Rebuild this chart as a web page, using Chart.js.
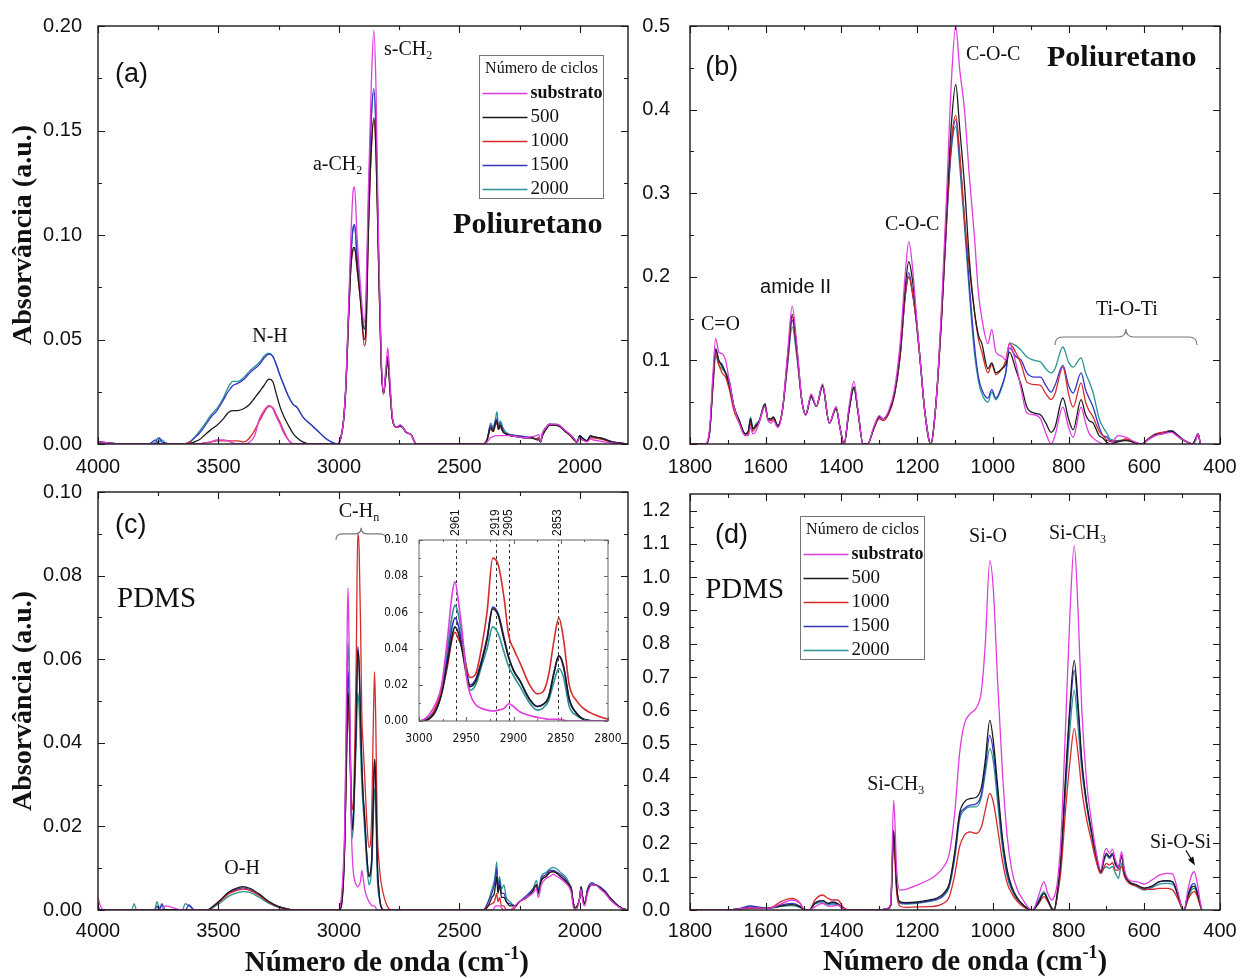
<!DOCTYPE html>
<html>
<head>
<meta charset="utf-8">
<script src="https://cdn.jsdelivr.net/npm/chart.js@4.4.1/dist/chart.umd.min.js"></script>
<style>
  body { margin: 0; background: #fff; width: 1240px; height: 979px; position: relative; overflow: hidden; }
  canvas { position: absolute; }
</style>
</head>
<body>
<canvas id="chartA" width="640" height="480" style="left:0;top:0"></canvas>
<canvas id="chartB" width="610" height="480" style="left:630px;top:0"></canvas>
<canvas id="chartC" width="640" height="509" style="left:0;top:470px"></canvas>
<canvas id="chartD" width="610" height="509" style="left:630px;top:470px"></canvas>
<canvas id="chartInset" width="240" height="262" style="left:385px;top:488px"></canvas>
<script>
// series (número de ciclos)
const seriesNames = ['substrato', '500', '1000', '1500', '2000'];
const seriesColors = ['#e03ce0', '#1b1b1b', '#d62b2b', '#3535c4', '#2b9393'];

// tick labels
const hiXTicks = [4000, 3500, 3000, 2500, 2000];
const loXTicks = [1800, 1600, 1400, 1200, 1000, 800, 600, 400];
const aYTicks = [0, 0.05, 0.10, 0.15, 0.20];
const bYTicks = [0, 0.1, 0.2, 0.3, 0.4, 0.5];
const cYTicks = [0, 0.02, 0.04, 0.06, 0.08, 0.10];
const dYTicks = [0, 0.1, 0.2, 0.3, 0.4, 0.5, 0.6, 0.7, 0.8, 0.9, 1.0, 1.1, 1.2];
const insetXTicks = [3000, 2950, 2900, 2850, 2800];
const insetYTicks = [0, 0.02, 0.04, 0.06, 0.08, 0.10];
const insetMarks = [2961, 2919, 2905, 2853];

// (a) Poliuretano, 4000-1800 cm-1
const aWave = [4000,3900,3790,3760,3752,3745,3735,3720,3700,3640,
  3618,3600,3580,3560,3530,3506,3480,3460,3440,3420,
  3394,3370,3350,3330,3311,3290,3275,3260,3245,3228,
  3210,3190,3174,3150,3120,3090,3062,3035,3005,2990,
  2980,2970,2960,2950,2940,2935,2925,2910,2895,2888,
  2878,2866,2855,2846,2836,2825,2815,2806,2797,2788,
  2778,2760,2745,2735,2720,2700,2690,2680,2400,2385,
  2370,2360,2350,2344,2338,2330,2320,2310,2290,2260,
  2230,2200,2180,2170,2163,2155,2140,2125,2105,2085,
  2060,2040,2020,2012,2000,1990,1970,1955,1945,1920,
  1900,1870,1840,1800];
const aSub = [.001,0,0,0,0,0,0,0,0,0,
  0,0,0,.0005,.001,.002,.002,.0015,.0005,0,
  0,.001,.004,.012,.016,.0185,.017,.013,.0096,.005,
  .002,0,0,0,0,0,0,0,0,.004,
  .012,.032,.065,.10,.122,.123,.10,.075,.058,.07,
  .12,.17,.198,.17,.10,.045,.024,.035,.046,.03,
  .013,.008,.009,.008,.0055,.0045,.002,0,0,.001,
  .003,.0035,.004,.004,.004,.004,.004,.004,.004,.0035,
  .003,.0035,.004,.0045,.001,.005,.008,.0095,.0095,.009,
  .0065,.0045,.002,.0008,.003,.002,.001,.0025,.002,.0015,
  .001,.0005,.0002,0];
const a500 = [.001,0,0,0,0,0,0,0,0,0,
  0,.001,.002,.004,.007,.009,.012,.015,.016,.016,
  .017,.019,.022,.025,.028,.031,.030,.024,.018,.013,
  .009,.005,.003,.001,0,0,0,0,0,.004,
  .012,.03,.06,.085,.094,.094,.085,.068,.05,.055,
  .10,.14,.156,.14,.09,.04,.024,.032,.040,.026,
  .012,.008,.0085,.008,.0055,.0045,.002,0,0,.002,
  .008,.006,.010,.011,.007,.009,.006,.005,.004,.0035,
  .003,.003,.002,.002,.001,.004,.007,.009,.009,.0085,
  .006,.004,.0015,.0008,.004,.003,.0016,.004,.0035,.003,
  .0024,.001,.0005,0];
const a1000 = [0,0,0,0,0,0,0,0,0,0,
  .001,0,0,.0005,.001,.0015,.0015,.0015,.0015,.0015,
  .001,.003,.0065,.011,.015,.018,.0175,.014,.0105,.006,
  .002,0,0,0,0,0,0,0,0,.004,
  .012,.03,.06,.085,.093,.094,.084,.068,.047,.05,
  .10,.14,.155,.14,.09,.04,.024,.032,.040,.026,
  .012,.008,.0085,.008,.0055,.0045,.002,0,0,.002,
  .007,.006,.009,.010,.007,.008,.006,.005,.004,.0035,
  .003,.003,.0025,.003,.001,.004,.0075,.009,.009,.0085,
  .006,.004,.0015,.0008,.003,.002,.0015,.003,.003,.0025,
  .002,.001,.0004,0];
const a1500 = [.001,0,0,.002,.0005,.003,.001,.0005,0,0,
  .001,.003,.005,.008,.013,.016,.021,.025,.028,.029,
  .031,.034,.036,.038,.041,.043,.042,.038,.033,.028,
  .023,.019,.0175,.013,.0097,.0065,.0034,.0012,0,.004,
  .012,.03,.062,.09,.104,.105,.09,.07,.055,.06,
  .11,.155,.170,.15,.095,.042,.024,.033,.042,.027,
  .012,.008,.009,.008,.0055,.0045,.002,0,0,.002,
  .009,.007,.011,.012,.008,.010,.007,.005,.0045,.004,
  .0035,.003,.0025,.003,.001,.005,.008,.0095,.009,.0085,
  .006,.0045,.002,.0008,.004,.003,.0016,.004,.0035,.003,
  .0024,.0012,.0005,0];
const a2000 = [.001,0,0,.001,.003,.001,.002,.0005,0,0,
  .001,.003,.006,.009,.014,.017,.022,.027,.030,.030,
  .032,.035,.037,.039,.042,.0435,.042,.038,.033,.028,
  .023,.019,.0176,.013,.0097,.0065,.0034,.0012,0,.004,
  .012,.03,.062,.09,.104,.105,.09,.07,.055,.062,
  .11,.155,.168,.15,.095,.042,.024,.033,.042,.027,
  .012,.008,.009,.008,.0055,.0045,.002,0,0,.002,
  .010,.008,.012,.0155,.009,.011,.008,.006,.0045,.004,
  .0035,.003,.0025,.003,.001,.005,.008,.0095,.0095,.009,
  .006,.0045,.002,.0008,.004,.003,.0016,.004,.0035,.003,
  .0024,.0012,.0005,0];

// (b) Poliuretano, 1800-400 cm-1
const bWave = [1800,1760,1748,1740,1732,1724,1715,1706,1696,1684,
  1670,1654,1646,1640,1634,1626,1618,1602,1594,1586,
  1580,1568,1556,1542,1530,1518,1504,1494,1480,1466,
  1450,1432,1414,1404,1393,1380,1367,1356,1343,1331,
  1315,1300,1290,1275,1260,1245,1232,1222,1212,1203,
  1192,1180,1164,1150,1135,1122,1110,1098,1088,1075,
  1062,1049,1038,1029,1013,1003,992,976,966,956,
  940,925,910,890,874,860,846,836,815,800,
  788,767,755,746,735,719,709,699,690,669,
  648,627,606,590,570,554,528,515,502,485,
  473,465,458,452];
const bSub = [0,0,.02,.08,.126,.11,.108,.10,.075,.045,
  .025,.01,.01,.02,.012,.015,.025,.045,.028,.025,
  .028,.02,.04,.11,.165,.12,.05,.035,.06,.045,
  .072,.025,.045,.02,0,.045,.075,.04,0,0,
  .02,.034,.03,.04,.065,.12,.20,.242,.21,.16,
  .10,.04,0,.05,.17,.30,.43,.50,.45,.40,
  .32,.25,.18,.15,.12,.137,.11,.105,.10,.12,
  .098,.065,.037,.035,.03,.013,0,.01,.044,.02,
  .008,.044,.025,.013,.007,.002,0,0,0,.01,
  .008,.003,0,.005,.01,.012,.014,.01,.006,.002,
  0,.003,.012,0];
const b500 = [0,0,.015,.07,.114,.10,.093,.085,.07,.045,
  .028,.012,.015,.03,.018,.022,.026,.048,.03,.03,
  .032,.022,.04,.105,.155,.115,.05,.035,.058,.045,
  .07,.025,.043,.02,0,.04,.068,.038,0,0,
  .018,.033,.03,.038,.06,.11,.185,.218,.195,.155,
  .10,.04,0,.05,.16,.28,.38,.43,.38,.31,
  .22,.16,.13,.12,.09,.097,.085,.09,.095,.11,
  .09,.07,.044,.037,.035,.025,.014,.02,.055,.03,
  .017,.053,.035,.028,.025,.01,.007,.002,0,.003,
  .004,.002,0,.005,.011,.012,.015,.011,.006,.002,
  0,.005,.012,0];
const b1000 = [0,0,.015,.065,.108,.095,.085,.08,.065,.04,
  .025,.01,.012,.025,.015,.02,.025,.045,.028,.028,
  .03,.02,.04,.10,.152,.11,.05,.035,.058,.045,
  .07,.025,.043,.02,0,.04,.068,.038,0,0,
  .018,.03,.028,.036,.058,.105,.175,.20,.18,.15,
  .10,.04,0,.05,.155,.27,.36,.393,.35,.27,
  .21,.16,.125,.11,.085,.095,.083,.09,.10,.12,
  .11,.095,.074,.071,.07,.06,.053,.06,.092,.06,
  .044,.073,.05,.04,.032,.015,.01,.005,.003,.003,
  .006,.002,0,.006,.012,.014,.015,.011,.006,.002,
  0,.005,.012,0];
const b1500 = [0,0,.015,.07,.112,.10,.095,.085,.075,.045,
  .028,.012,.015,.03,.018,.022,.026,.048,.03,.03,
  .032,.022,.04,.10,.148,.11,.05,.035,.056,.045,
  .07,.025,.043,.02,0,.04,.068,.038,0,0,
  .018,.032,.03,.038,.06,.105,.175,.205,.18,.15,
  .10,.04,0,.05,.155,.27,.355,.388,.345,.27,
  .19,.12,.08,.065,.055,.065,.055,.07,.085,.115,
  .105,.10,.085,.08,.08,.07,.062,.07,.094,.07,
  .061,.085,.065,.055,.044,.02,.01,.0085,.004,.003,
  .005,.002,0,.006,.012,.013,.016,.012,.007,.002,
  0,.006,.012,0];
const b2000 = [0,0,.015,.065,.105,.095,.09,.085,.075,.045,
  .028,.012,.015,.032,.018,.024,.028,.046,.03,.03,
  .032,.022,.04,.095,.14,.105,.05,.035,.056,.045,
  .068,.025,.042,.02,0,.04,.066,.038,0,0,
  .018,.032,.03,.038,.06,.105,.175,.20,.18,.15,
  .10,.04,0,.05,.155,.265,.35,.38,.335,.26,
  .18,.11,.075,.06,.05,.062,.053,.068,.085,.121,
  .118,.112,.104,.10,.098,.09,.085,.09,.116,.098,
  .092,.103,.085,.075,.061,.03,.02,.013,.006,.004,
  .005,.002,0,.006,.012,.013,.016,.012,.007,.002,
  0,.006,.012,0];

// (c) PDMS, 4000-1800 cm-1 (the inset uses the same spectra)
const cWave = [4000,3990,3975,3860,3850,3840,3765,3755,3745,3735,
  3722,3650,3638,3622,3600,3545,3520,3490,3460,3430,
  3400,3370,3330,3290,3250,3210,3190,3000,2990,2982,
  2976,2970,2965,2962,2958,2954,2950,2946,2940,2934,
  2928,2922,2916,2910,2905,2900,2893,2883,2875,2869,
  2863,2857,2852,2847,2841,2833,2826,2812,2800,2780,
  2400,2380,2365,2355,2350,2345,2340,2333,2325,2315,
  2305,2290,2270,2250,2220,2195,2180,2172,2160,2140,
  2125,2110,2095,2080,2060,2045,2035,2028,2020,2010,
  2000,1995,1988,1980,1968,1950,1935,1915,1895,1875,
  1850,1825,1800];
const cSub = [.003,.001,0,0,0,0,0,0,0,0,
  .001,0,0,0,0,0,0,0,0,0,
  0,0,0,0,0,0,0,0,.003,.01,
  .02,.045,.07,.077,.065,.048,.025,.015,.009,.007,
  .006,.0055,.006,.007,.0095,.008,.005,.003,.002,.0015,
  .001,.001,.001,.0005,0,0,0,0,0,0,
  0,0,0,.0005,.001,.001,.001,.001,.0005,0,
  0,0,.001,.002,.003,.004,.005,.003,.006,.0075,
  .008,.0085,.008,.0075,.0065,.0055,.004,.001,0,.0005,
  .003,.005,.002,.001,.004,.006,.006,.005,.004,.0025,
  .0012,.0003,0];
const c500 = [0,0,0,0,0,0,0,0,0,0,
  0,0,0,0,0,0,.001,.0025,.0042,.0051,
  .0056,.0052,.0038,.002,.0008,.0002,0,0,.001,.006,
  .015,.032,.047,.052,.048,.038,.026,.019,.022,.032,
  .045,.062,.058,.045,.035,.028,.022,.012,.008,.009,
  .013,.027,.036,.03,.012,.004,.001,0,0,0,
  0,.001,.003,.004,.006,.008,.004,.006,.003,.003,
  .002,.001,.001,.002,.003,.0045,.006,.004,.007,.008,
  .009,.0092,.0088,.008,.007,.006,.005,.002,.0005,.001,
  .003,.0055,.003,.0015,.0045,.006,.006,.0052,.0042,.0028,
  .0014,.0004,0];
const c1000 = [0,0,0,0,0,0,0,0,0,0,
  0,0,0,0,0,0,.0009,.0022,.0038,.0046,
  .005,.0047,.0034,.0018,.0007,.0002,0,0,.001,.008,
  .016,.03,.045,.049,.045,.04,.03,.024,.026,.04,
  .06,.09,.086,.068,.047,.04,.032,.02,.015,.016,
  .025,.045,.057,.045,.02,.011,.007,.003,.001,0,
  0,.001,.0015,.002,.003,.004,.002,.003,.001,.001,
  0,0,.0005,.002,.003,.0045,.006,.004,.007,.008,
  .009,.0092,.0088,.008,.007,.006,.005,.002,.0005,.001,
  .003,.0055,.003,.0015,.0045,.006,.006,.0052,.0042,.0028,
  .0014,.0004,0];
const c1500 = [0,0,0,0,0,0,0,.001,0,.0015,
  0,0,0,.0012,0,0,.0009,.0023,.004,.0048,
  .0053,.0049,.0036,.0019,.0008,.0002,0,0,.001,.006,
  .016,.035,.052,.057,.052,.04,.028,.02,.023,.033,
  .046,.063,.059,.046,.035,.028,.022,.012,.008,.009,
  .013,.027,.036,.03,.012,.004,.001,0,0,0,
  0,.002,.004,.006,.008,.01,.005,.007,.004,.004,
  .002,.0015,.001,.002,.0035,.005,.006,.0045,.0075,.0085,
  .0095,.0095,.009,.0085,.0075,.006,.005,.002,.0005,.001,
  .003,.0055,.003,.0015,.005,.0065,.006,.0055,.0045,.003,
  .0015,.0004,0];
const c2000 = [.001,0,0,0,.0015,0,0,.002,.0005,.001,
  0,0,.0015,.001,0,0,.0007,.0018,.0032,.004,
  .0044,.0042,.003,.0016,.0006,.0001,0,0,.002,.007,
  .018,.04,.058,.064,.058,.045,.03,.017,.02,.03,
  .04,.052,.048,.038,.03,.025,.019,.01,.006,.007,
  .011,.022,.029,.024,.008,.003,.001,0,0,0,
  0,.002,.005,.007,.009,.0115,.006,.008,.005,.006,
  .003,.002,.001,.002,.0035,.005,.007,.005,.008,.009,
  .0098,.0102,.0098,.009,.008,.0065,.005,.002,.0005,.001,
  .003,.0055,.003,.0015,.005,.0065,.006,.0055,.0045,.003,
  .0015,.0004,0];

// (d) PDMS, 1800-400 cm-1
const dWave = [1800,1700,1670,1640,1620,1600,1580,1560,1530,1510,
  1500,1485,1470,1450,1435,1425,1410,1395,1380,1300,
  1280,1270,1262,1254,1246,1230,1200,1170,1150,1130,
  1115,1100,1088,1075,1060,1045,1030,1020,1008,998,
  988,975,962,950,935,920,905,895,880,865,
  855,845,838,830,820,808,796,785,775,765,
  752,740,728,715,706,700,692,684,676,668,
  660,652,640,620,600,580,560,540,525,510,
  500,495,485,475,468,460,453,448];
const dSub = [0,0,.003,.007,.006,.005,.008,.018,.03,.02,
  .003,0,.01,.02,.012,.012,.015,.004,0,0,
  .004,.02,.33,.12,.06,.062,.075,.09,.105,.13,
  .17,.30,.47,.56,.59,.605,.66,.80,1.05,.95,
  .70,.42,.22,.12,.06,.03,.005,0,.04,.085,
  .05,.03,.04,.08,.22,.55,.90,1.095,.90,.60,
  .38,.27,.18,.12,.17,.185,.17,.182,.15,.13,
  .175,.12,.09,.085,.078,.09,.105,.11,.108,.05,
  .005,0,.06,.105,.115,.08,.03,0];
const d500 = [0,0,.003,.008,.007,.005,.007,.012,.016,.01,
  .002,0,.02,.028,.02,.022,.018,.005,0,0,
  .003,.015,.24,.07,.025,.022,.024,.03,.035,.05,
  .08,.18,.29,.325,.335,.338,.37,.45,.57,.50,
  .38,.22,.12,.07,.035,.015,.002,0,.02,.05,
  .03,.005,0,.05,.16,.40,.62,.75,.62,.45,
  .32,.24,.17,.115,.155,.17,.16,.17,.14,.13,
  .16,.11,.085,.075,.066,.072,.085,.088,.085,.04,
  .005,0,.04,.068,.072,.05,.02,0];
const d1000 = [0,0,.002,.005,.005,.005,.01,.025,.035,.022,
  .004,0,.03,.045,.035,.03,.03,.008,0,0,
  .003,.012,.20,.05,.012,.008,.0095,.01,.012,.02,
  .04,.11,.19,.225,.235,.23,.25,.30,.35,.32,
  .25,.15,.08,.05,.025,.01,.002,0,.018,.04,
  .025,.005,0,.04,.12,.30,.45,.545,.47,.36,
  .27,.21,.15,.11,.13,.14,.135,.142,.12,.12,
  .13,.10,.08,.072,.062,.062,.065,.065,.06,.03,
  .003,0,.03,.05,.055,.04,.015,0];
const d1500 = [0,0,.004,.012,.009,.006,.008,.015,.02,.012,
  .002,0,.022,.028,.02,.024,.02,.005,0,0,
  .003,.015,.235,.07,.022,.02,.022,.027,.032,.045,
  .075,.17,.28,.305,.315,.318,.35,.43,.525,.47,
  .36,.21,.11,.065,.035,.015,.002,0,.025,.05,
  .03,.005,0,.045,.15,.38,.60,.72,.60,.44,
  .32,.24,.16,.11,.15,.165,.155,.165,.135,.125,
  .165,.105,.085,.075,.065,.07,.085,.087,.084,.04,
  .005,0,.045,.075,.08,.055,.02,0];
const d2000 = [0,0,.003,.009,.007,.005,.007,.011,.013,.008,
  .002,0,.018,.022,.016,.018,.016,.004,0,0,
  .003,.015,.23,.065,.02,.018,.02,.025,.03,.043,
  .07,.16,.27,.30,.31,.31,.34,.41,.485,.44,
  .33,.19,.10,.06,.03,.015,.002,0,.028,.055,
  .033,.008,0,.045,.14,.36,.55,.66,.55,.42,
  .31,.23,.16,.11,.125,.13,.125,.13,.11,.095,
  .14,.10,.082,.07,.06,.067,.078,.08,.078,.038,
  .005,0,.035,.06,.065,.045,.018,0];

const SERIF = '"Liberation Serif", "Times New Roman", serif';
const SANS = '"Liberation Sans", Arial, sans-serif';
const NARROW = '"Liberation Sans Narrow", "DejaVu Sans Condensed", "Liberation Sans", sans-serif';

function makeSets(xs, ys, width) {
  return ys.map((arr, k) => ({
    label: seriesNames[k],
    data: xs.map((x, i) => ({ x: x, y: arr[i] })),
    borderColor: seriesColors[k],
    borderWidth: width,
    pointRadius: 0,
    pointHoverRadius: 0,
    cubicInterpolationMode: 'monotone',
    fill: false
  }));
}

// text with _{sub} and ^{sup} parts
function drawRich(ctx, str, x, y, size, family, weight, align) {
  const parts = [];
  const re = /([_^])\{([^}]*)\}|([^_^]+)/g;
  let m;
  while ((m = re.exec(str))) {
    if (m[3]) parts.push({ s: m[3], k: '' });
    else parts.push({ s: m[2], k: m[1] });
  }
  const fontOf = k => weight + ' ' + (k ? Math.round(size * 0.62) : size) + 'px ' + family;
  let w = 0;
  parts.forEach(p => { ctx.font = fontOf(p.k); p.w = ctx.measureText(p.s).width; w += p.w; });
  let cx = align === 'center' ? x - w / 2 : (align === 'right' ? x - w : x);
  ctx.textAlign = 'left';
  ctx.textBaseline = 'middle';
  parts.forEach(p => {
    ctx.font = fontOf(p.k);
    const dy = p.k === '_' ? size * 0.3 : (p.k === '^' ? -size * 0.3 : 0);
    ctx.fillText(p.s, cx, y + dy);
    cx += p.w;
  });
}

const framePlugin = {
  id: 'frame',
  beforeDatasetsDraw(chart, args, o) {
    if (!o.fill) return;
    const a = chart.chartArea;
    chart.ctx.save();
    chart.ctx.fillStyle = '#fff';
    chart.ctx.fillRect(a.left, a.top, a.right - a.left, a.bottom - a.top);
    chart.ctx.restore();
  },
  afterDatasetsDraw(chart, args, o) {
    const { ctx, chartArea: a } = chart;
    const xs = chart.scales.x, ys = chart.scales.y;
    const big = o.major || 7, small = o.minor || 4;
    const marks = scale => {
      const v = scale.ticks.map(t => t.value);
      const out = v.map(q => [q, big]);
      for (let i = 0; i < v.length - 1; i++) out.push([(v[i] + v[i + 1]) / 2, small]);
      return out;
    };
    ctx.save();
    ctx.strokeStyle = o.color || '#1a1a1a';
    ctx.lineWidth = o.width || 1.4;
    ctx.strokeRect(a.left, a.top, a.right - a.left, a.bottom - a.top);
    ctx.lineWidth = 1.1;
    ctx.beginPath();
    marks(xs).forEach(([v, len]) => {
      const p = Math.round(xs.getPixelForValue(v)) + 0.5;
      ctx.moveTo(p, a.bottom); ctx.lineTo(p, a.bottom - len);
      ctx.moveTo(p, a.top); ctx.lineTo(p, a.top + len);
    });
    marks(ys).forEach(([v, len]) => {
      const p = Math.round(ys.getPixelForValue(v)) + 0.5;
      ctx.moveTo(a.left, p); ctx.lineTo(a.left + len, p);
      ctx.moveTo(a.right, p); ctx.lineTo(a.right - len, p);
    });
    ctx.stroke();
    ctx.restore();
  }
};

const notesPlugin = {
  id: 'notes',
  afterDatasetsDraw(chart, args, o) {
    const { ctx, chartArea: a } = chart;
    const xs = chart.scales.x, ys = chart.scales.y;
    const px = it => it.fx !== undefined ? a.left + it.fx * (a.right - a.left) : xs.getPixelForValue(it.x);
    const py = it => it.fy !== undefined ? a.top + it.fy * (a.bottom - a.top) : ys.getPixelForValue(it.y);
    ctx.save();
    ctx.fillStyle = '#111';
    (o.texts || []).forEach(it => drawRich(ctx, it.t, px(it), py(it), it.size || 20,
      it.family || SERIF, it.weight || 'normal', it.align || 'left'));
    (o.braces || []).forEach(b => {
      const x1 = xs.getPixelForValue(b.x1), x2 = xs.getPixelForValue(b.x2);
      const y = ys.getPixelForValue(b.y), h = b.h, xc = (x1 + x2) / 2;
      ctx.strokeStyle = '#777'; ctx.lineWidth = 1.2;
      ctx.beginPath();
      ctx.moveTo(x1, y + h);
      ctx.quadraticCurveTo(x1, y, x1 + h, y);
      ctx.lineTo(xc - h, y);
      ctx.quadraticCurveTo(xc, y, xc, y - h);
      ctx.quadraticCurveTo(xc, y, xc + h, y);
      ctx.lineTo(x2 - h, y);
      ctx.quadraticCurveTo(x2, y, x2, y + h);
      ctx.stroke();
    });
    (o.arrows || []).forEach(r => {
      const x1 = xs.getPixelForValue(r.x1), y1 = ys.getPixelForValue(r.y1);
      const x2 = xs.getPixelForValue(r.x2), y2 = ys.getPixelForValue(r.y2);
      const ang = Math.atan2(y2 - y1, x2 - x1);
      ctx.strokeStyle = '#111'; ctx.lineWidth = 1.2;
      ctx.beginPath(); ctx.moveTo(x1, y1); ctx.lineTo(x2 - 6 * Math.cos(ang), y2 - 6 * Math.sin(ang)); ctx.stroke();
      ctx.beginPath();
      ctx.moveTo(x2, y2);
      ctx.lineTo(x2 - 9 * Math.cos(ang - 0.35), y2 - 9 * Math.sin(ang - 0.35));
      ctx.lineTo(x2 - 9 * Math.cos(ang + 0.35), y2 - 9 * Math.sin(ang + 0.35));
      ctx.closePath(); ctx.fill();
    });
    if (o.legend) {
      const L = o.legend;
      const left = Math.round(xs.getPixelForValue(L.x)) + 0.5, top = Math.round(ys.getPixelForValue(L.y)) + 0.5;
      ctx.fillStyle = '#fff';
      ctx.fillRect(left, top, 124, 143);
      ctx.strokeStyle = '#777'; ctx.lineWidth = 1;
      ctx.strokeRect(left, top, 124, 143);
      ctx.fillStyle = '#111';
      drawRich(ctx, L.title, left + 62, top + 13, 16, SERIF, 'normal', 'center');
      chart.data.datasets.forEach((ds, i) => {
        const yy = Math.round(top + 37 + i * 24) + 0.5;
        ctx.strokeStyle = ds.borderColor; ctx.lineWidth = 1.3;
        ctx.beginPath(); ctx.moveTo(left + 3, yy); ctx.lineTo(left + 48, yy); ctx.stroke();
        ctx.fillStyle = '#111';
        drawRich(ctx, ds.label, left + 51, yy, i === 0 ? 18 : 19, SERIF, i === 0 ? 'bold' : 'normal', 'left');
      });
    }
    ctx.restore();
  }
};

const marksPlugin = {
  id: 'marks',
  beforeDatasetsDraw(chart, args, o) {
    if (!o.values) return;
    const { ctx, chartArea: a } = chart;
    const xs = chart.scales.x;
    ctx.save();
    ctx.strokeStyle = '#333'; ctx.lineWidth = 1; ctx.setLineDash([3, 3]);
    o.values.forEach(v => {
      const p = Math.round(xs.getPixelForValue(v)) + 0.5;
      ctx.beginPath(); ctx.moveTo(p, a.bottom); ctx.lineTo(p, a.top); ctx.stroke();
    });
    ctx.setLineDash([]);
    ctx.fillStyle = '#111';
    ctx.font = '12px ' + SANS;
    ctx.textAlign = 'left'; ctx.textBaseline = 'middle';
    o.values.forEach(v => {
      ctx.save();
      ctx.translate(xs.getPixelForValue(v), a.top - 4);
      ctx.rotate(-Math.PI / 2);
      ctx.fillText(String(v), 0, 0);
      ctx.restore();
    });
    ctx.restore();
  }
};

function buildChart(id, cfg) {
  const tickFont = cfg.tickFont || { family: SANS, size: 20 };
  return new Chart(document.getElementById(id), {
    type: 'line',
    data: { datasets: cfg.datasets },
    plugins: [framePlugin, marksPlugin, notesPlugin],
    options: {
      responsive: false,
      animation: false,
      events: [],
      layout: { padding: cfg.pad },
      plugins: {
        legend: { display: false },
        tooltip: { enabled: false },
        frame: cfg.frame || {},
        marks: cfg.marks || {},
        notes: cfg.notes || {}
      },
      scales: {
        x: {
          type: 'linear', reverse: true, min: cfg.x.min, max: cfg.x.max,
          grid: { display: false }, border: { display: false },
          ticks: { autoSkip: false, maxRotation: 0, padding: cfg.x.pad, font: tickFont, color: '#111',
            callback: v => String(v) },
          afterBuildTicks: s => { s.ticks = cfg.x.ticks.map(v => ({ value: v })); },
          afterFit: s => { s.height = cfg.x.size; }
        },
        y: {
          type: 'linear', min: cfg.y.min, max: cfg.y.max,
          grid: { display: false }, border: { display: false },
          ticks: { autoSkip: false, padding: cfg.y.pad, font: tickFont, color: '#111',
            callback: v => v.toFixed(cfg.y.digits) },
          title: cfg.y.title ? {
            display: true, text: cfg.y.title, color: '#111',
            font: { family: SERIF, size: 28, weight: 'bold' }, padding: { top: 7, bottom: 0 }
          } : { display: false },
          afterBuildTicks: s => { s.ticks = cfg.y.ticks.map(v => ({ value: v })); },
          afterFit: s => { s.width = cfg.y.size; }
        }
      }
    }
  });
}

const yTitle = 'Absorvância (a.u.)';
const xTitle = 'Número de onda (cm^{-1})';

buildChart('chartA', {
  datasets: makeSets(aWave, [aSub, a500, a1000, a1500, a2000], 1.3),
  pad: { top: 26, right: 12, left: 0, bottom: 0 },
  x: { min: 1800, max: 4000, ticks: hiXTicks, size: 36, pad: 3 },
  y: { min: 0, max: 0.2, ticks: aYTicks, digits: 2, size: 98, pad: 8, title: yTitle },
  notes: {
    texts: [
      { t: '(a)', x: 3929, y: 0.1766, size: 27, family: SANS },
      { t: 's-CH_{2}', x: 2813, y: 0.1885 },
      { t: 'a-CH_{2}', x: 3108, y: 0.1335 },
      { t: 'N-H', x: 3286, y: 0.0512, align: 'center' },
      { t: 'Poliuretano', x: 2526, y: 0.1048, size: 30, weight: 'bold' }
    ],
    legend: { x: 2418, y: 0.1861, title: 'Número de ciclos' }
  }
});

buildChart('chartB', {
  datasets: makeSets(bWave, [bSub, b500, b1000, b1500, b2000], 1.3),
  pad: { top: 26, right: 20, left: 0, bottom: 0 },
  x: { min: 400, max: 1800, ticks: loXTicks, size: 36, pad: 3 },
  y: { min: 0, max: 0.5, ticks: bYTicks, digits: 1, size: 60, pad: 12 },
  notes: {
    texts: [
      { t: '(b)', x: 1760, y: 0.4498, size: 27, family: SANS },
      { t: 'C-O-C', x: 1071, y: 0.4653 },
      { t: 'Poliuretano', x: 857, y: 0.4617, size: 30, weight: 'bold' },
      { t: 'C-O-C', x: 1285, y: 0.262 },
      { t: 'amide II', x: 1615, y: 0.1878, family: SANS },
      { t: 'C=O', x: 1771, y: 0.1423 },
      { t: 'Ti-O-Ti', x: 646, y: 0.160, align: 'center' }
    ],
    braces: [{ x1: 836, x2: 461, y: 0.128, h: 8 }]
  }
});

buildChart('chartC', {
  datasets: makeSets(cWave, [cSub, c500, c1000, c1500, c2000], 1.3),
  pad: { top: 22, right: 12, left: 0, bottom: 0 },
  x: { min: 1800, max: 4000, ticks: hiXTicks, size: 69, pad: 1 },
  y: { min: 0, max: 0.1, ticks: cYTicks, digits: 2, size: 98, pad: 8, title: yTitle },
  notes: {
    texts: [
      { t: '(c)', x: 3929, y: 0.0919, size: 27, family: SANS },
      { t: 'PDMS', x: 3921, y: 0.0742, size: 29 },
      { t: 'O-H', x: 3402, y: 0.0098, align: 'center' },
      { t: 'C-H_{n}', x: 2917, y: 0.0952, align: 'center' },
      { t: xTitle, fx: 0.545, fy: 1.127, size: 29, weight: 'bold', align: 'center' }
    ],
    braces: [{ x1: 3012, x2: 2804, y: 0.090, h: 6 }]
  }
});

buildChart('chartD', {
  datasets: makeSets(dWave, [dSub, d500, d1000, d1500, d2000], 1.3),
  pad: { top: 21, right: 20, left: 0, bottom: 0 },
  x: { min: 400, max: 1800, ticks: loXTicks, size: 69, pad: 1 },
  y: { min: 0, max: 1.25, ticks: dYTicks, digits: 1, size: 60, pad: 12 },
  notes: {
    texts: [
      { t: '(d)', x: 1734, y: 1.125, size: 27, family: SANS },
      { t: 'PDMS', x: 1760, y: 0.961, size: 29 },
      { t: 'Si-O', x: 1013, y: 1.122, align: 'center' },
      { t: 'Si-CH_{3}', x: 852, y: 1.131 },
      { t: 'Si-CH_{3}', x: 1332, y: 0.376 },
      { t: 'Si-O-Si', x: 585, y: 0.203 },
      { t: xTitle, fx: 0.519, fy: 1.126, size: 29, weight: 'bold', align: 'center' }
    ],
    arrows: [{ x1: 490, y1: 0.179, x2: 466, y2: 0.134 }],
    legend: { x: 1509, y: 1.184, title: 'Número de ciclos' }
  }
});

buildChart('chartInset', {
  datasets: makeSets(cWave, [cSub, c500, c1000, c1500, c2000], 1.6),
  tickFont: { family: NARROW, size: 12 },
  pad: { top: 52, right: 17, left: 0, bottom: 0 },
  x: { min: 2800, max: 3000, ticks: insetXTicks, size: 29, pad: 3 },
  y: { min: 0, max: 0.1, ticks: insetYTicks, digits: 2, size: 34, pad: 3 },
  frame: { fill: true, major: 4, minor: 2, width: 1, color: '#666' },
  marks: { values: insetMarks }
});
</script>
</body>
</html>
